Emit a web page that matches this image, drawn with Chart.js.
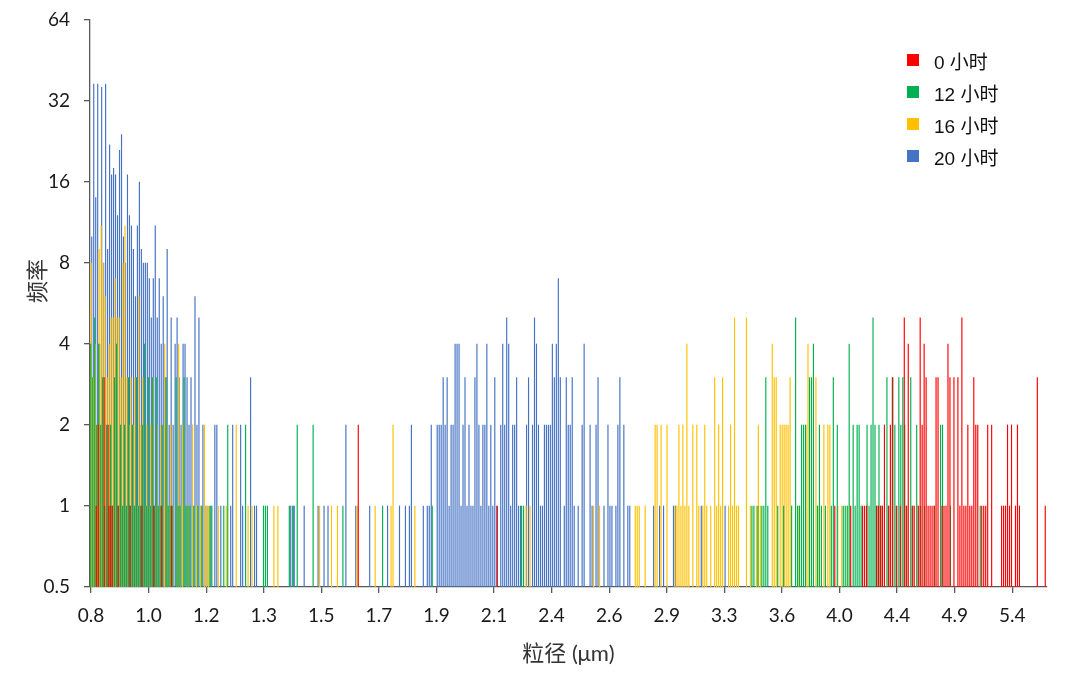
<!DOCTYPE html>
<html>
<head>
<meta charset="utf-8">
<script src="https://cdn.jsdelivr.net/npm/chart.js@4.4.1/dist/chart.umd.min.js"></script>
<style>
  body { margin: 0; background: #fff; }
  .wrap { position: relative; width: 1080px; height: 674px; }
  #customLegend {
    position: absolute; left: 907px; top: 44px;
    font-family: "Liberation Sans", "Noto Sans CJK SC", sans-serif;
    font-size: 19px; color: #111;
  }
  .legend-item { height: 32px; display: flex; align-items: center; }
  .legend-color { width: 12px; height: 12px; margin-right: 15px; display: inline-block; }
  #yTitle {
    position: absolute; left: 35px; top: 281px;
    transform: translate(-50%, -50%) rotate(-90deg);
    font-family: "Noto Sans CJK SC", sans-serif; font-size: 22px; color: #333;
    white-space: nowrap;
  }
</style>
</head>
<body>
<div class="wrap">
  <canvas id="sizeChart" width="1080" height="674"></canvas>
  <div id="customLegend"></div>
  <div id="yTitle">频率</div>
</div>
<script>
const tickLabels = ["0.8", "1.0", "1.2", "1.3", "1.5", "1.7", "1.9", "2.1", "2.4", "2.6", "2.9", "3.3", "3.6", "4.0", "4.4", "4.9", "5.4"];
const binCount = 482;   // number of size classes on the axis
const labelStep = 29;   // a label every 29 classes
const yTicks = [0.5, 1, 2, 4, 8, 16, 32, 64];

const seriesNames = ["0 小时", "12 小时", "16 小时", "20 小时"];
const seriesColors = ["#FF0000", "#00B050", "#FFC000", "#4472C4"];

// [size class, count]
const h0 = [[3,1],[4,2],[7,3],[9,2],[10,1],[11,1],[14,1],[20,1],[26,1],[32,1],[36,1],[41,1],[135,2],[205,1],
  [375,1],[383,1],[389,1],[390,1],[391,1],[396,1],[397,1],[398,1],[399,1],[400,2],[402,1],[403,2],[404,3],[406,1],
  [408,1],[410,5],[411,1],[412,4],[414,1],[415,1],[417,1],[418,5],[419,2],[420,4],[421,3],[422,1],[423,1],[424,1],
  [425,1],[426,3],[427,3],[429,1],[430,1],[431,1],[432,4],[433,3],[435,3],[437,3],[438,1],[439,5],[440,1],[441,1],
  [442,2],[443,1],[444,1],[445,3],[446,2],[447,2],[449,1],[450,1],[451,1],[452,2],[454,2],[459,1],[460,1],[461,1],
  [462,2],[463,1],[464,2],[466,1],[467,2],[468,1],[477,3],[481,1]];

const h12 = [[0,4],[1,3],[2,5],[3,2],[4,4],[5,2],[6,3],[7,1],[8,2],[9,1],[10,2],[11,1],[12,3],[13,4],[14,1],[15,2],
  [16,1],[17,2],[18,1],[19,3],[20,1],[21,2],[22,1],[23,3],[24,1],[25,1],[26,2],[27,4],[28,1],[29,3],[30,1],[31,3],
  [32,1],[33,3],[34,1],[35,1],[36,2],[38,3],[39,1],[40,1],[41,1],[43,3],[44,1],[45,1],[47,3],[48,1],[49,1],[50,1],
  [52,1],[54,1],[56,1],[60,1],[61,1],[67,1],[69,2],[78,2],[87,1],[88,1],[89,1],[100,1],[102,1],[104,2],[112,2],
  [127,1],[147,1],[172,1],[217,1],[218,1],[333,1],[334,1],[336,1],[338,1],[339,1],[340,3],[341,1],[346,1],[349,1],
  [353,1],[355,5],[356,1],[357,1],[358,2],[359,2],[360,2],[362,3],[363,3],[364,4],[366,1],[367,2],[368,1],[370,1],
  [373,1],[374,3],[376,2],[379,1],[380,1],[381,1],[382,4],[384,2],[385,1],[386,2],[387,2],[388,1],[391,2],[392,1],
  [393,2],[394,5],[395,2],[396,1],[397,2],[398,1],[401,3],[402,1],[404,3],[405,2],[406,1],[407,3],[408,2],[409,3],
  [410,2],[411,1],[413,3],[414,1],[416,2],[417,1],[418,1],[420,1],[425,1],[428,2],[429,2],[433,1],[448,1]];

const h16 = [[0,8],[1,3],[2,4],[3,2],[4,9],[5,11],[6,8],[7,6],[8,3],[9,4],[10,5],[11,5],[12,7],[13,5],[14,5],[15,3],
  [16,8],[17,11],[18,3],[19,2],[20,3],[21,2],[22,3],[23,1],[24,6],[25,2],[26,3],[27,1],[28,2],[29,1],[30,2],[31,3],
  [32,1],[33,2],[34,1],[35,2],[36,1],[37,4],[38,2],[39,1],[40,2],[41,1],[43,1],[44,4],[45,1],[46,2],[48,1],[49,1],
  [51,2],[53,1],[55,1],[57,2],[58,1],[59,1],[64,1],[68,1],[73,2],[79,1],[81,1],[92,1],[94,1],[115,1],[121,1],
  [124,1],[134,1],[143,1],[151,1],[152,2],[163,1],[219,1],[221,1],[253,1],[256,1],[274,1],[275,1],[276,1],[279,1],
  [284,2],[285,2],[287,2],[290,2],[294,1],[295,1],[296,2],[297,1],[298,2],[299,1],[300,4],[301,1],[303,2],[305,2],
  [306,1],[308,1],[309,2],[310,1],[312,1],[314,3],[315,1],[316,2],[317,1],[318,3],[321,1],[322,2],[323,1],[324,5],
  [325,1],[326,1],[330,5],[332,1],[335,1],[336,2],[337,1],[343,4],[344,3],[345,3],[347,2],[348,2],[349,2],[350,2],
  [351,2],[352,3],[356,1],[360,2],[361,4],[365,3],[366,1],[369,2],[371,2],[372,2],[376,1],[378,1],[381,1]];

const h20 = [[0,10],[1,37],[2,14],[3,37],[4,4],[5,36],[6,8],[7,37],[8,9],[9,22],[10,17],[11,18],[12,17],[13,12],
  [14,21],[15,24],[16,10],[17,8],[18,17],[19,12],[20,11],[21,9],[22,6],[23,11],[24,16],[25,9],[26,8],[27,8],[28,8],
  [29,7],[30,5],[31,7],[32,11],[33,5],[34,7],[35,4],[36,6],[37,3],[38,9],[39,2],[40,5],[41,2],[42,4],[43,5],[44,3],
  [45,2],[46,4],[47,4],[48,3],[49,2],[50,3],[51,1],[52,6],[53,2],[54,5],[55,1],[56,2],[57,1],[58,1],[60,1],[62,2],
  [63,2],[65,1],[70,1],[71,2],[75,2],[76,1],[80,3],[82,1],[83,1],[100,1],[101,1],[102,1],[107,1],[114,1],[117,1],
  [119,1],[128,2],[133,1],[140,1],[149,1],[155,1],[158,1],[160,1],[161,2],[167,1],[169,1],[170,1],[171,2],[174,2],
  [175,2],[176,2],[177,3],[178,2],[179,3],[180,1],[181,2],[182,2],[183,4],[184,4],[185,4],[186,1],[187,2],[188,3],
  [189,1],[190,2],[191,1],[192,1],[193,3],[194,4],[195,2],[196,1],[197,2],[198,2],[199,4],[200,1],[201,2],[202,1],
  [203,3],[204,1],[206,2],[207,4],[208,2],[209,5],[210,4],[211,1],[212,2],[213,2],[214,3],[215,1],[216,1],[219,2],
  [220,3],[222,2],[223,5],[224,4],[225,2],[226,1],[227,1],[228,2],[229,2],[230,2],[231,2],[232,4],[233,3],[234,4],
  [235,7],[236,3],[238,1],[239,3],[240,2],[241,2],[242,3],[243,1],[245,1],[247,2],[248,4],[251,2],[252,1],[254,2],
  [255,3],[258,1],[260,2],[261,1],[262,1],[264,1],[265,2],[266,3],[268,2],[270,1],[271,1],[283,1],[286,1],[288,1],
  [293,1],[294,1],[307,1],[319,1]];

const seriesData = [h0, h12, h16, h20];

document.addEventListener("DOMContentLoaded", () => {
  const categories = Array.from({ length: binCount }, (_, i) =>
    i % labelStep === 0 && tickLabels[i / labelStep] ? tickLabels[i / labelStep] : "");

  const toBins = (pairs) => {
    const arr = new Array(binCount).fill(null);
    pairs.forEach(([bin, count]) => { arr[bin] = count; });
    return arr;
  };

  const tickFont = { family: "Lato, 'Liberation Sans', sans-serif", size: 19 };
  const titleFont = { family: "Lato, 'Noto Sans CJK SC', sans-serif", size: 22 };
  const axisColor = "#595959";

  const ctx = document.getElementById("sizeChart").getContext("2d");
  new Chart(ctx, {
    type: "bar",
    data: {
      labels: categories,
      datasets: seriesData.map((pairs, k) => ({
        label: seriesNames[k],
        data: toBins(pairs),
        backgroundColor: seriesColors[k],
        borderWidth: 0,
        categoryPercentage: 1,
        barPercentage: 1,
      })),
    },
    options: {
      responsive: false,
      animation: false,
      devicePixelRatio: 1,
      layout: { padding: { left: 23, right: 33, top: 20, bottom: 7 } },
      plugins: {
        legend: { display: false }, // توضیحات سفارشی پایین‌تر ساخته می‌شود
        tooltip: { enabled: false },
      },
      scales: {
        x: {
          type: "category",
          offset: true,
          grid: { drawOnChartArea: false, offset: false, tickLength: 6, color: axisColor, lineWidth: 1.3 },
          border: { color: axisColor, width: 1.3 },
          ticks: { autoSkip: false, maxRotation: 0, padding: 11, font: tickFont, color: "#1a1a1a" },
          afterBuildTicks: (scale) => {
            scale.ticks = scale.ticks.filter((t) => categories[t.value] !== "");
          },
          afterFit: (scale) => {
            scale.height = 80;
            scale.paddingLeft = 0;
            scale.paddingRight = 0;
          },
          title: { display: true, text: "粒径 (μm)", font: titleFont, color: "#333", padding: 0 },
        },
        y: {
          type: "logarithmic",
          min: 0.5,
          max: 64,
          afterBuildTicks: (scale) => {
            scale.ticks = yTicks.map((v) => ({ value: v }));
          },
          afterFit: (scale) => {
            scale.width = 67;
            scale.paddingTop = 0;
            scale.paddingBottom = 0;
          },
          grid: { drawOnChartArea: false, tickLength: 6, color: axisColor, lineWidth: 1.3 },
          border: { color: axisColor, width: 1.3 },
          ticks: { padding: 14, font: tickFont, color: "#1a1a1a", callback: (v) => String(v) },
        },
      },
    },
  });

  // ساخت توضیحات سفارشی
  const legendContainer = document.getElementById("customLegend");
  legendContainer.innerHTML = seriesNames
    .map((name, index) => `
      <div class="legend-item">
        <span class="legend-color" style="background-color:${seriesColors[index]}"></span>${name}
      </div>`)
    .join("");
});
</script>
</body>
</html>
